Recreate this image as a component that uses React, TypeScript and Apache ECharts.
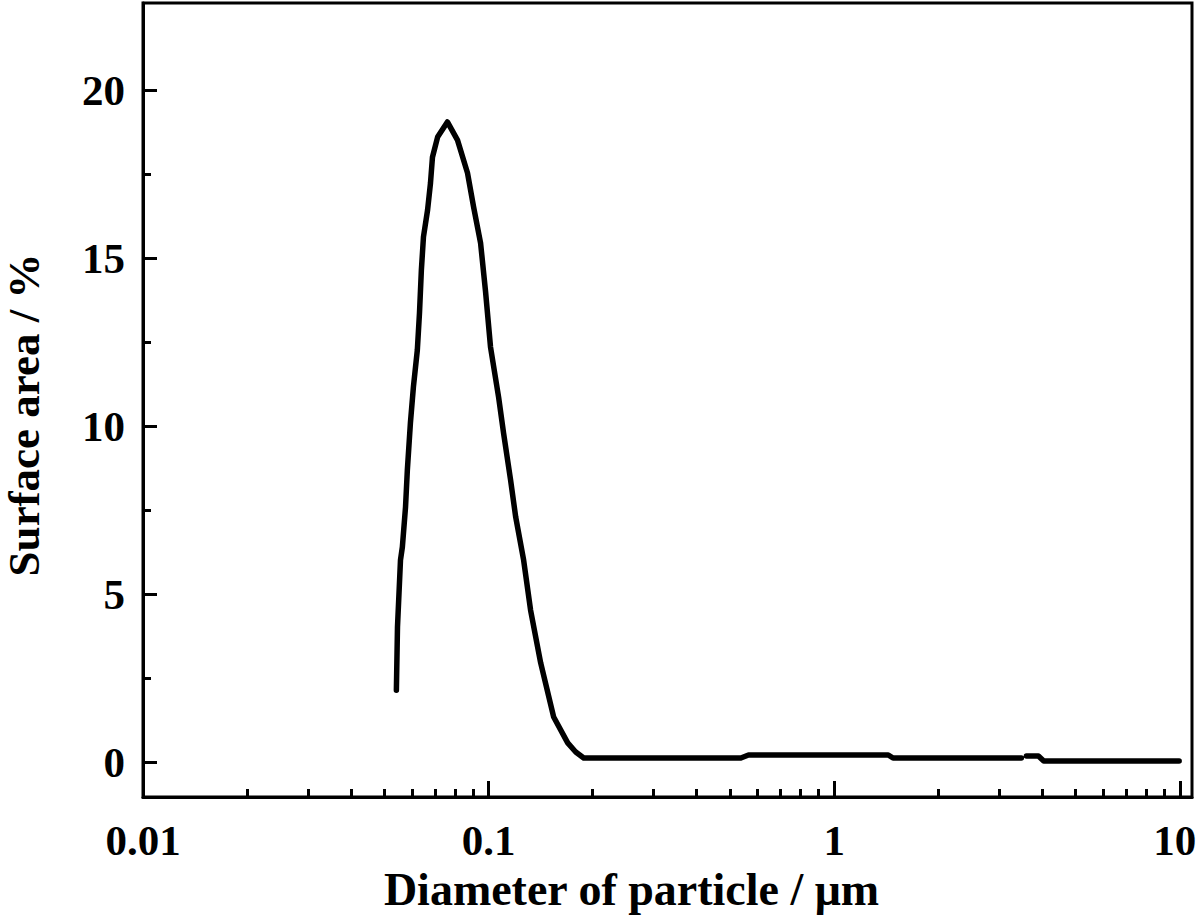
import React, { useEffect, useRef } from "react";
import * as echarts from "echarts";

// Diameter of particle (µm) and surface area (%)
const diameters = [
  0.0541, 0.0545, 0.0556, 0.0563, 0.0575, 0.0582, 0.0594, 0.0606, 0.0622, 0.0631,
  0.0639, 0.0648, 0.0666, 0.0679, 0.0688, 0.0712, 0.076, 0.0813, 0.0869, 0.0905,
  0.0948, 0.098, 0.1013, 0.1069, 0.1105, 0.1158, 0.1198, 0.1263, 0.1323, 0.1415,
  0.1543, 0.1694, 0.1787, 0.1885, 0.3, 0.537, 0.565, 1.0, 1.434, 1.48, 3.48, 3.54,
  3.6, 3.9, 4.04, 9.96,
];
const surfaceArea: (number | null)[] = [
  2.14, 4.02, 6.01, 6.4, 7.59, 8.69, 10.09, 11.16, 12.26, 13.36,
  14.64, 15.63, 16.43, 17.23, 18.0, 18.6, 19.05, 18.51, 17.53, 16.52,
  15.45, 14.0, 12.35, 10.86, 9.79, 8.39, 7.29, 6.01, 4.52, 2.95,
  1.34, 0.57, 0.3, 0.12, 0.12, 0.12, 0.21, 0.21, 0.21, 0.12, 0.12, null,
  0.18, 0.18, 0.03, 0.03,
];

const xMajorTicks = [0.01, 0.1, 1, 10];
const xMinorTicks = [
  0.02, 0.03, 0.04, 0.05, 0.06, 0.07, 0.08, 0.09,
  0.2, 0.3, 0.4, 0.5, 0.6, 0.7, 0.8, 0.9,
  2, 3, 4, 5, 6, 7, 8, 9,
];
const yMajorTicks = [0, 5, 10, 15, 20];
const yMinorTicks = [2.5, 7.5, 12.5, 17.5];

const xTitle = "Diameter of particle / μm";
const yTitle = "Surface area / %";

const FONT = '"Liberation Serif", "Times New Roman", serif';

export default function App() {
  const ref = useRef<HTMLDivElement>(null);
  useEffect(() => {
    if (!ref.current) return;
    const chart = echarts.init(ref.current, null, { renderer: "svg" });
    const xMin = 0.01;
    const xMax = 10.85;
    const yMin = -1.04;
    const yMax = 22.59;
    const data = diameters.map((d, i) =>
      surfaceArea[i] == null ? [d, "-"] : [d, surfaceArea[i]]
    );
    const labelStyle = {
      fontFamily: FONT,
      fontWeight: "bold",
      fontSize: 43,
      color: "#000",
    };
    chart.setOption({
      animation: false,
      backgroundColor: "#fff",
      grid: {
        left: 143,
        right: 8,
        top: 3,
        bottom: 123,
        containLabel: false,
        outerBoundsMode: "none",
        show: true,
        borderColor: "#000",
        borderWidth: 3,
      },
      xAxis: [
        {
          type: "log",
          logBase: 10,
          min: xMin,
          max: xMax,
          position: "bottom",
          name: xTitle,
          nameLocation: "middle",
          nameGap: 68,
          nameTextStyle: {
            fontFamily: FONT,
            fontWeight: "bold",
            fontSize: 46,
            color: "#000",
            padding: [0, 72, 0, 0],
          },
          axisLine: { show: true, onZero: false, lineStyle: { color: "#000", width: 3 } },
          axisTick: {
            show: true,
            inside: true,
            length: 16,
            customValues: xMajorTicks,
            lineStyle: { color: "#000", width: 3 },
          },
          axisLabel: {
            show: true,
            customValues: xMajorTicks,
            margin: 22,
            ...labelStyle,
            formatter: (v: number) => (v >= 10 ? "{r|" + v + "}" : String(v)),
            rich: {
              r: { ...labelStyle, padding: [0, 10, 0, 0] },
            },
          },
          splitLine: { show: false },
          minorTick: { show: false },
        },
        {
          type: "log",
          logBase: 10,
          min: xMin,
          max: xMax,
          position: "bottom",
          axisLine: { show: false, onZero: false },
          axisTick: {
            show: true,
            inside: true,
            length: 8,
            customValues: xMinorTicks,
            lineStyle: { color: "#000", width: 3 },
          },
          axisLabel: { show: false },
          splitLine: { show: false },
        },
      ],
      yAxis: [
        {
          type: "value",
          min: yMin,
          max: yMax,
          position: "left",
          name: yTitle,
          nameLocation: "middle",
          nameGap: 97,
          nameTextStyle: {
            fontFamily: FONT,
            fontWeight: "bold",
            fontSize: 45,
            color: "#000",
            padding: [0, 30, 0, 0],
          },
          axisLine: { show: true, onZero: false, lineStyle: { color: "#000", width: 3 } },
          axisTick: {
            show: true,
            inside: true,
            length: 14,
            customValues: yMajorTicks,
            lineStyle: { color: "#000", width: 3 },
          },
          axisLabel: {
            show: true,
            customValues: yMajorTicks,
            margin: 18,
            ...labelStyle,
          },
          splitLine: { show: false },
        },
        {
          type: "value",
          min: yMin,
          max: yMax,
          position: "left",
          axisLine: { show: false, onZero: false },
          axisTick: {
            show: true,
            inside: true,
            length: 8,
            customValues: yMinorTicks,
            lineStyle: { color: "#000", width: 3 },
          },
          axisLabel: { show: false },
          splitLine: { show: false },
        },
      ],
      series: [
        {
          type: "line",
          xAxisIndex: 0,
          yAxisIndex: 0,
          data,
          showSymbol: false,
          symbol: "none",
          connectNulls: false,
          smooth: false,
          lineStyle: { color: "#000", width: 5.5, cap: "round", join: "round" },
        },
      ],
    });
    return () => chart.dispose();
  }, []);
  return (
    <div
      ref={ref}
      style={{ position: "fixed", left: 0, top: 0, width: 1200, height: 920 }}
    />
  );
}
